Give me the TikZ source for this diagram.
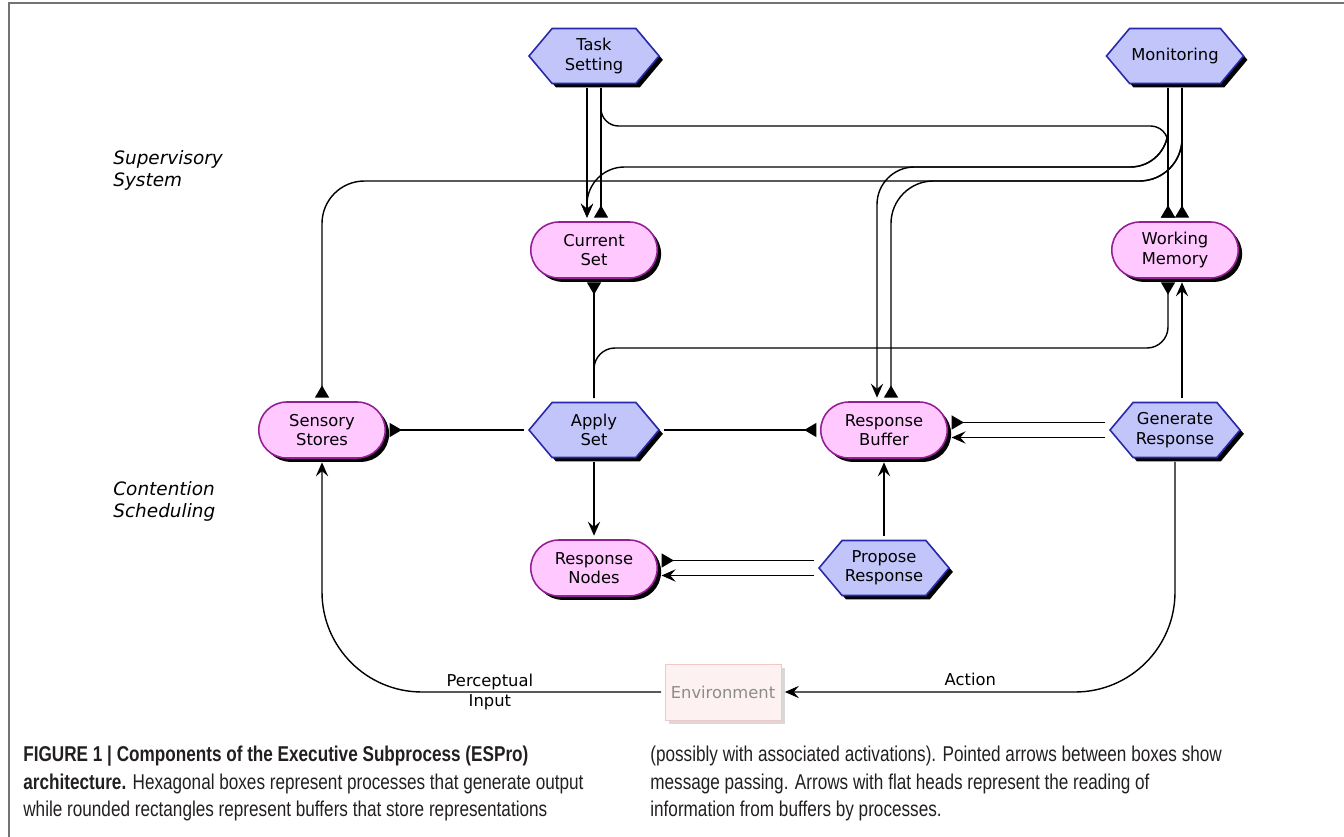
\documentclass[tikz,border=0pt]{standalone}
\usepackage{fontspec}
\newfontfamily\diafont{DejaVu Sans}
\newfontfamily\capfont[FakeStretch=0.8]{Liberation Sans}
\usetikzlibrary{shapes.symbols, shapes.misc, arrows.meta, shadows}
\definecolor{procfill}{RGB}{194,197,250}
\definecolor{procline}{RGB}{40,40,170}
\definecolor{buffill}{RGB}{255,200,255}
\definecolor{bufline}{RGB}{150,30,150}
\definecolor{envfill}{RGB}{253,241,241}
\definecolor{envline}{RGB}{240,200,200}
\definecolor{envtext}{RGB}{140,140,140}
\definecolor{capgray}{RGB}{35,31,32}

\begin{document}
\begin{tikzpicture}[x=0.02cm, y=-0.02cm,
  proc/.style={signal, signal to=east and west, signal pointer angle=100,
    draw=procline, fill=procfill, line width=0.9pt, minimum width=2.6cm,
    minimum height=1.1cm, inner sep=1pt, align=center,
    font=\diafont\fontsize{9.3}{11}\selectfont,
    drop shadow={shadow xshift=2.2pt, shadow yshift=-2.2pt, fill=black, opacity=1}},
  buffer/.style={rounded rectangle, draw=bufline, fill=buffill, line width=0.9pt,
    minimum width=2.6cm, minimum height=1.12cm, inner sep=1pt, align=center,
    font=\diafont\fontsize{9.3}{11}\selectfont,
    drop shadow={shadow xshift=2.2pt, shadow yshift=-2.2pt, fill=black, opacity=1}},
  envbox/.style={rectangle, draw=envline, fill=envfill, minimum width=2.2cm,
    minimum height=1.12cm, text=envtext, font=\diafont\fontsize{9.3}{11}\selectfont,
    drop shadow={shadow xshift=2pt, shadow yshift=-2pt, fill=black!15, opacity=1}},
  conn/.style={line width=0.8pt, shorten >=2pt, shorten <=2pt},
  msg/.style={conn, -{Stealth[length=8pt,width=7pt,inset=3pt]}},
  rd/.style={conn, -{Triangle[reversed,length=7pt,width=8pt]}},
  lbl/.style={font=\diafont\itshape\fontsize{10.5}{12.5}\selectfont, align=left,
    anchor=north west, inner sep=0pt},
  caption/.style={font=\capfont\fontsize{12.2}{15.5}\selectfont, text=capgray,
    align=left, anchor=north west, inner sep=0pt}
]
\useasboundingbox (0,0) rectangle (1344,837);
\draw[black!55, line width=0.8pt] (9,837) -- (9,3) -- (1344,3);

% processes and buffers
\node[proc] (ts) at (594,56) {Task\\Setting};
\node[proc] (mon) at (1175,56) {Monitoring};
\node[buffer] (cs) at (594,250) {Current\\Set};
\node[buffer] (wm) at (1175,250) {Working\\Memory};
\node[buffer] (ss) at (322,430) {Sensory\\Stores};
\node[proc] (as) at (594,430) {Apply\\Set};
\node[buffer] (rb) at (884,430) {Response\\Buffer};
\node[proc] (gr) at (1175,430) {Generate\\Response};
\node[buffer] (rn) at (594,568) {Response\\Nodes};
\node[proc] (pr) at (884,568) {Propose\\Response};
\node[envbox] (env) at (723,692) {Environment};

\node[lbl] (sup) at (113,150) {Supervisory\\System};
\node[lbl] (con) at (113,481) {Contention\\Scheduling};

% side points for the double lines
\coordinate (yA) at (0,126);
\coordinate (yB) at (0,167);
\coordinate (yC) at (0,181);
\coordinate (yD) at (0,348);
\coordinate (tsL) at ([xshift=-0.14cm]ts.south);
\coordinate (tsR) at ([xshift=0.14cm]ts.south);
\coordinate (csL) at ([xshift=-0.14cm]cs.north);
\coordinate (csR) at ([xshift=0.14cm]cs.north);
\coordinate (monL) at ([xshift=-0.14cm]mon.south);
\coordinate (monR) at ([xshift=0.14cm]mon.south);
\coordinate (wmL) at ([xshift=-0.14cm]wm.north);
\coordinate (wmR) at ([xshift=0.14cm]wm.north);
\coordinate (wmBL) at ([xshift=-0.14cm]wm.south);
\coordinate (wmBR) at ([xshift=0.14cm]wm.south);
\coordinate (rbL) at ([xshift=-0.14cm]rb.north);
\coordinate (rbR) at ([xshift=0.14cm]rb.north);
\coordinate (grR) at ([xshift=0.14cm]gr.north);

% supervisory system
\draw[msg] (tsL) -- (csL);
\draw[rd] (tsR) -- (csR);
\draw[rd] (tsR) [rounded corners=0.35cm] |- (wmL |- yA) [rounded corners=0.8cm] -- (wmL);
\draw[rd] (monL) -- (wmL);
\draw[rd] (monR) -- (wmR);
\draw[msg] (monL) [rounded corners=0.75cm] |- (csL |- yB) [rounded corners=0.45cm] -- (csL);
\draw[msg] (monL) [rounded corners=0.75cm] |- (rbL |- yB) [rounded corners=2cm] -- (rbL);
\draw[rd] (monR) [rounded corners=0.85cm] |- (rbR |- yC) [rounded corners=2cm] -- (rbR);
\draw[rd] (monR) [rounded corners=0.85cm] |- (ss.north |- yC) [rounded corners=2cm] -- (ss.north);

% contention scheduling
\draw[rd] (as.north) -- (cs.south);
\draw[rd] (as.north) [rounded corners=0.42cm] |- (wmBL |- yD) [rounded corners=0.45cm] -- (wmBL);
\draw[msg] (grR) -- (wmBR);
\draw[rd] (as.west) -- (ss.east);
\draw[rd] (as.east) -- (rb.west);
\draw[rd] ([yshift=0.15cm]gr.west) -- ([yshift=0.15cm]rb.east);
\draw[msg] ([yshift=-0.15cm]gr.west) -- ([yshift=-0.15cm]rb.east);
\draw[msg] (pr.north) -- (rb.south);
\draw[rd] ([yshift=0.15cm]pr.west) -- ([yshift=0.15cm]rn.east);
\draw[msg] ([yshift=-0.15cm]pr.west) -- ([yshift=-0.15cm]rn.east);
\draw[msg] (as.south) -- (rn.north);

% environment loop
\draw[msg] (gr.south) [rounded corners=2cm] |- (env.east)
  node[pos=0.76, above, font=\diafont\fontsize{9.3}{11}\selectfont] {Action};
\draw[msg] (env.west) [rounded corners=2cm] -| (ss.south)
  node[pos=0.255, align=center, font=\diafont\fontsize{9.3}{11.5}\selectfont] {Perceptual\\Input};

% caption
\node[caption] (capl) at (23,746) {\textbf{FIGURE 1 | Components of the Executive Subprocess (ESPro)}\\
  \textbf{architecture.} Hexagonal boxes represent processes that generate output\\
  while rounded rectangles represent buffers that store representations};
\node[caption] (capr) at (650,746) {(possibly with associated activations). Pointed arrows between boxes show\\
  message passing. Arrows with flat heads represent the reading of\\
  information from buffers by processes.};
\end{tikzpicture}
\end{document}
